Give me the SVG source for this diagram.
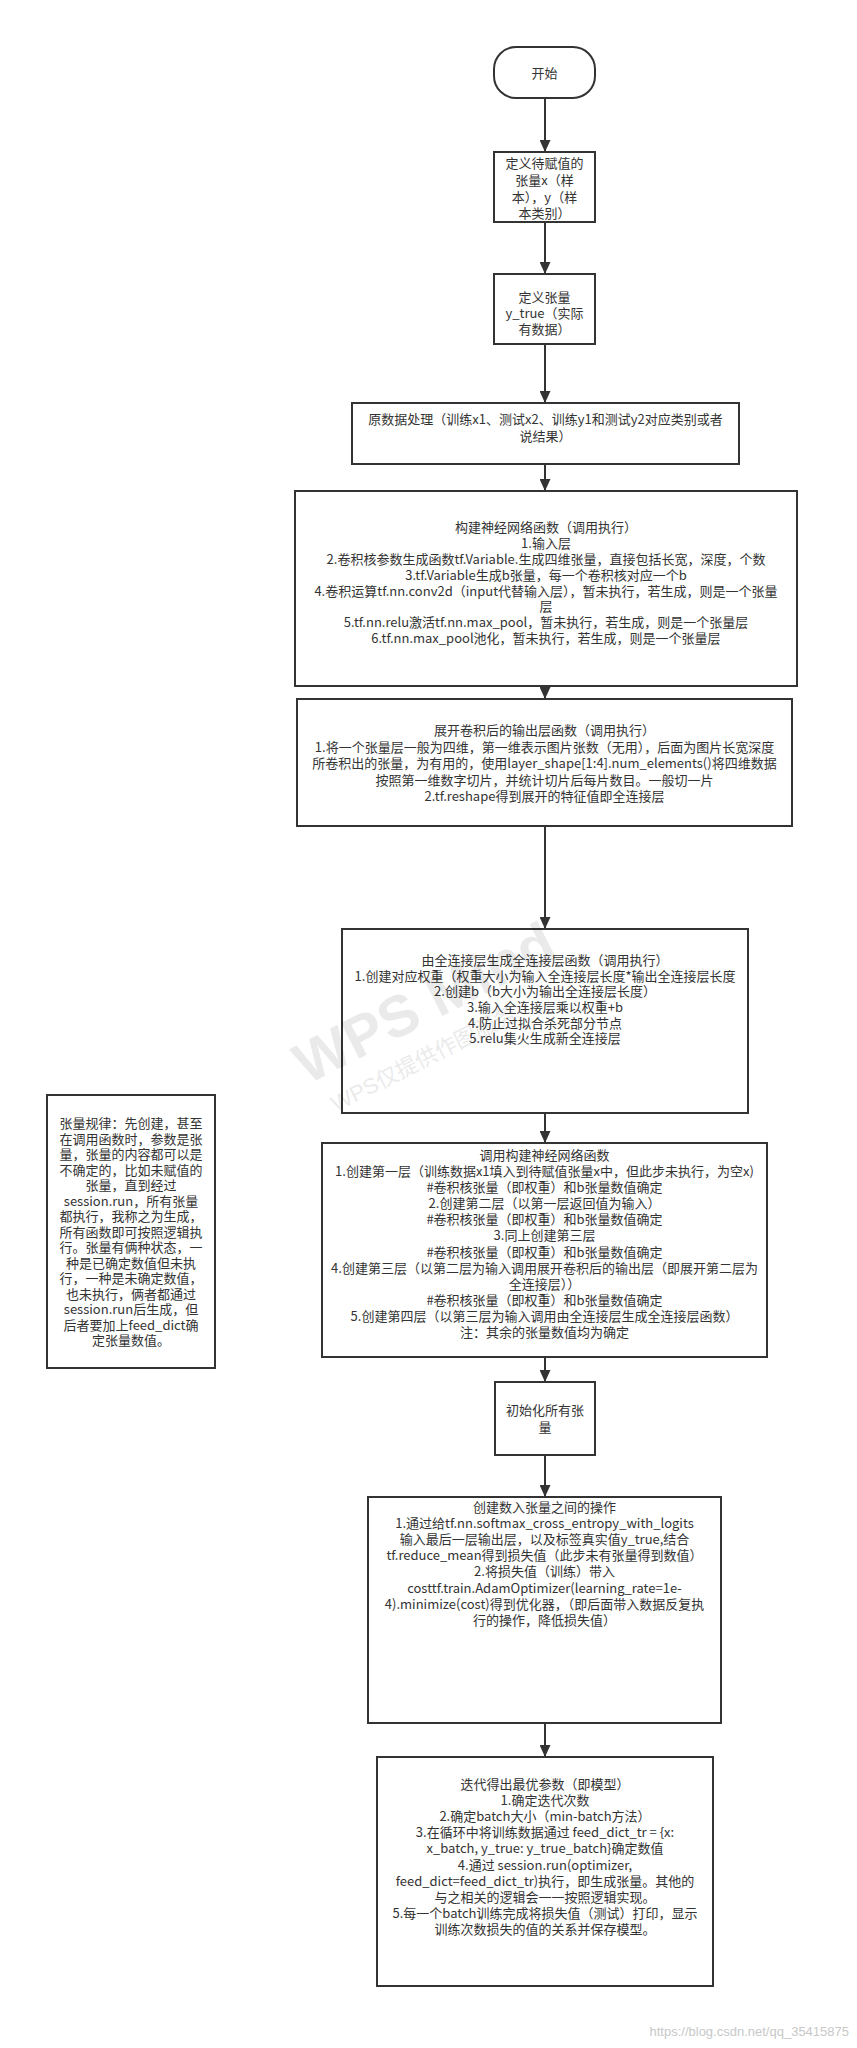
<svg xmlns="http://www.w3.org/2000/svg" width="857" height="2048" viewBox="0 0 857 2048">
<style>
.box{fill:#fff;stroke:#333;stroke-width:2}
.t{font-family:"Noto Sans CJK SC","Liberation Sans",sans-serif;font-size:13px;fill:#333;text-anchor:middle}
.c{fill:none;stroke:#333;stroke-width:2;marker-end:url(#arr)}
.wm{font-family:"Liberation Sans","Noto Sans CJK SC",sans-serif;fill:#000;opacity:0.08}
</style>
<defs>
<marker id="arr" markerUnits="userSpaceOnUse" markerWidth="12" markerHeight="11" refX="12" refY="5.5" orient="auto">
<path d="M0,0 L12,5.5 L0,11 z" fill="#333"/>
</marker>
</defs>
<rect width="857" height="2048" fill="#fff"/>
<g id="connectors">
<line class="c" x1="545" y1="98" x2="545" y2="152"/>
<line class="c" x1="545" y1="222" x2="545" y2="274"/>
<line class="c" x1="545" y1="344" x2="545" y2="403"/>
<line class="c" x1="545" y1="464" x2="545" y2="491"/>
<line class="c" x1="545" y1="686" x2="545" y2="699"/>
<line class="c" x1="545" y1="826" x2="545" y2="929"/>
<line class="c" x1="545" y1="1113" x2="545" y2="1143"/>
<line class="c" x1="545" y1="1357" x2="545" y2="1382"/>
<line class="c" x1="545" y1="1455" x2="545" y2="1497"/>
<line class="c" x1="545" y1="1723" x2="545" y2="1757"/>
</g>
<g id="start">
<rect class="box" x="494" y="47" width="101" height="51" rx="22"/>
<text class="t" x="544.5" y="78">开始</text>
</g>
<g id="n2">
<rect class="box" x="494" y="152" width="101" height="70"/>
<text class="t" x="544.5" y="168">定义待赋值的</text>
<text class="t" x="544.5" y="185">张量x（样</text>
<text class="t" x="544.5" y="202">本），y（样</text>
<text class="t" x="544.5" y="218">本类别）</text>
</g>
<g id="n3">
<rect class="box" x="494" y="274" width="101" height="70"/>
<text class="t" x="544.5" y="302">定义张量</text>
<text class="t" x="544.5" y="318">y_true（实际</text>
<text class="t" x="544.5" y="334">有数据）</text>
</g>
<g id="n4">
<rect class="box" x="352" y="403" width="387" height="61"/>
<text class="t" x="545.5" y="424">原数据处理（训练x1、测试x2、训练y1和测试y2对应类别或者</text>
<text class="t" x="545.5" y="441">说结果）</text>
</g>
<g id="n5">
<rect class="box" x="295" y="491" width="502" height="195"/>
<text class="t" x="546" y="532">构建神经网络函数（调用执行）</text>
<text class="t" x="546" y="548">1.输入层</text>
<text class="t" x="546" y="564">2.卷积核参数生成函数tf.Variable.生成四维张量，直接包括长宽，深度，个数</text>
<text class="t" x="546" y="580">3.tf.Variable生成b张量，每一个卷积核对应一个b</text>
<text class="t" x="546" y="596">4.卷积运算tf.nn.conv2d（input代替输入层），暂未执行，若生成，则是一个张量</text>
<text class="t" x="546" y="611">层</text>
<text class="t" x="546" y="627">5.tf.nn.relu激活tf.nn.max_pool，暂未执行，若生成，则是一个张量层</text>
<text class="t" x="546" y="643">6.tf.nn.max_pool池化，暂未执行，若生成，则是一个张量层</text>
</g>
<g id="n6">
<rect class="box" x="297" y="699" width="495" height="127"/>
<text class="t" x="544.5" y="735">展开卷积后的输出层函数（调用执行）</text>
<text class="t" x="544.5" y="752">1.将一个张量层一般为四维，第一维表示图片张数（无用），后面为图片长宽深度</text>
<text class="t" x="544.5" y="768">所卷积出的张量，为有用的，使用layer_shape[1:4].num_elements()将四维数据</text>
<text class="t" x="544.5" y="785">按照第一维数字切片，并统计切片后每片数目。一般切一片</text>
<text class="t" x="544.5" y="801">2.tf.reshape得到展开的特征值即全连接层</text>
</g>
<g id="n7">
<rect class="box" x="342" y="929" width="406" height="184"/>
<text class="t" x="545" y="965">由全连接层生成全连接层函数（调用执行）</text>
<text class="t" x="545" y="981">1.创建对应权重（权重大小为输入全连接层长度*输出全连接层长度</text>
<text class="t" x="545" y="996">2.创建b（b大小为输出全连接层长度）</text>
<text class="t" x="545" y="1012">3.输入全连接层乘以权重+b</text>
<text class="t" x="545" y="1028">4.防止过拟合杀死部分节点</text>
<text class="t" x="545" y="1043">5.relu集火生成新全连接层</text>
</g>
<g id="note">
<rect class="box" x="47" y="1095" width="168" height="273"/>
<text class="t" x="131" y="1128">张量规律：先创建，甚至</text>
<text class="t" x="131" y="1143.5">在调用函数时，参数是张</text>
<text class="t" x="131" y="1159">量，张量的内容都可以是</text>
<text class="t" x="131" y="1174.5">不确定的，比如未赋值的</text>
<text class="t" x="131" y="1190">张量，直到经过</text>
<text class="t" x="131" y="1205.5">session.run，所有张量</text>
<text class="t" x="131" y="1221">都执行，我称之为生成，</text>
<text class="t" x="131" y="1236.5">所有函数即可按照逻辑执</text>
<text class="t" x="131" y="1252">行。张量有俩种状态，一</text>
<text class="t" x="131" y="1267.5">种是已确定数值但未执</text>
<text class="t" x="131" y="1283">行，一种是未确定数值，</text>
<text class="t" x="131" y="1298.5">也未执行，俩者都通过</text>
<text class="t" x="131" y="1314">session.run后生成，但</text>
<text class="t" x="131" y="1329.5">后者要加上feed_dict确</text>
<text class="t" x="131" y="1345">定张量数值。</text>
</g>
<g id="n8">
<rect class="box" x="322" y="1143" width="445" height="214"/>
<text class="t" x="544.5" y="1160">调用构建神经网络函数</text>
<text class="t" x="544.5" y="1176">1.创建第一层（训练数据x1填入到待赋值张量x中，但此步未执行，为空x)</text>
<text class="t" x="544.5" y="1192">#卷积核张量（即权重）和b张量数值确定</text>
<text class="t" x="544.5" y="1208">2.创建第二层（以第一层返回值为输入）</text>
<text class="t" x="544.5" y="1224">#卷积核张量（即权重）和b张量数值确定</text>
<text class="t" x="544.5" y="1240">3.同上创建第三层</text>
<text class="t" x="544.5" y="1257">#卷积核张量（即权重）和b张量数值确定</text>
<text class="t" x="544.5" y="1273">4.创建第三层（以第二层为输入调用展开卷积后的输出层（即展开第二层为</text>
<text class="t" x="544.5" y="1289">全连接层））</text>
<text class="t" x="544.5" y="1305">#卷积核张量（即权重）和b张量数值确定</text>
<text class="t" x="544.5" y="1321">5.创建第四层（以第三层为输入调用由全连接层生成全连接层函数）</text>
<text class="t" x="544.5" y="1337">注：其余的张量数值均为确定</text>
</g>
<g id="n9">
<rect class="box" x="495" y="1382" width="100" height="73"/>
<text class="t" x="545" y="1415">初始化所有张</text>
<text class="t" x="545" y="1432">量</text>
</g>
<g id="n10">
<rect class="box" x="368" y="1497" width="353" height="226"/>
<text class="t" x="544.5" y="1512">创建数入张量之间的操作</text>
<text class="t" x="544.5" y="1528">1.通过给tf.nn.softmax_cross_entropy_with_logits</text>
<text class="t" x="544.5" y="1544">输入最后一层输出层，以及标签真实值y_true,结合</text>
<text class="t" x="544.5" y="1560">tf.reduce_mean得到损失值（此步未有张量得到数值）</text>
<text class="t" x="544.5" y="1576">2.将损失值（训练）带入</text>
<text class="t" x="544.5" y="1593">costtf.train.AdamOptimizer(learning_rate=1e-</text>
<text class="t" x="544.5" y="1609">4).minimize(cost)得到优化器，（即后面带入数据反复执</text>
<text class="t" x="544.5" y="1625">行的操作，降低损失值）</text>
</g>
<g id="n11">
<rect class="box" x="377" y="1757" width="336" height="229"/>
<text class="t" x="545" y="1789">迭代得出最优参数（即模型）</text>
<text class="t" x="545" y="1805">1.确定迭代次数</text>
<text class="t" x="545" y="1821">2.确定batch大小（min-batch方法）</text>
<text class="t" x="545" y="1837">3.在循环中将训练数据通过 feed_dict_tr = {x:</text>
<text class="t" x="545" y="1853">x_batch, y_true: y_true_batch}确定数值</text>
<text class="t" x="545" y="1870">4.通过  session.run(optimizer,</text>
<text class="t" x="545" y="1886">feed_dict=feed_dict_tr)执行，即生成张量。其他的</text>
<text class="t" x="545" y="1902">与之相关的逻辑会一一按照逻辑实现。</text>
<text class="t" x="545" y="1918">5.每一个batch训练完成将损失值（测试）打印，显示</text>
<text class="t" x="545" y="1934">训练次数损失的值的关系并保存模型。</text>
</g>
<g id="watermark">
<text class="wm" x="0" y="0" font-size="58" font-weight="bold" transform="translate(307,1085) rotate(-27)">WPS Mind</text>
<text class="wm" x="0" y="0" font-size="22" transform="translate(336,1112) rotate(-27)">WPS仅提供作图服务</text>
<text x="849" y="2036" font-family="Liberation Sans,sans-serif" font-size="13" fill="#c8c8c8" text-anchor="end">https://blog.csdn.net/qq_35415875</text>
</g>
</svg>
